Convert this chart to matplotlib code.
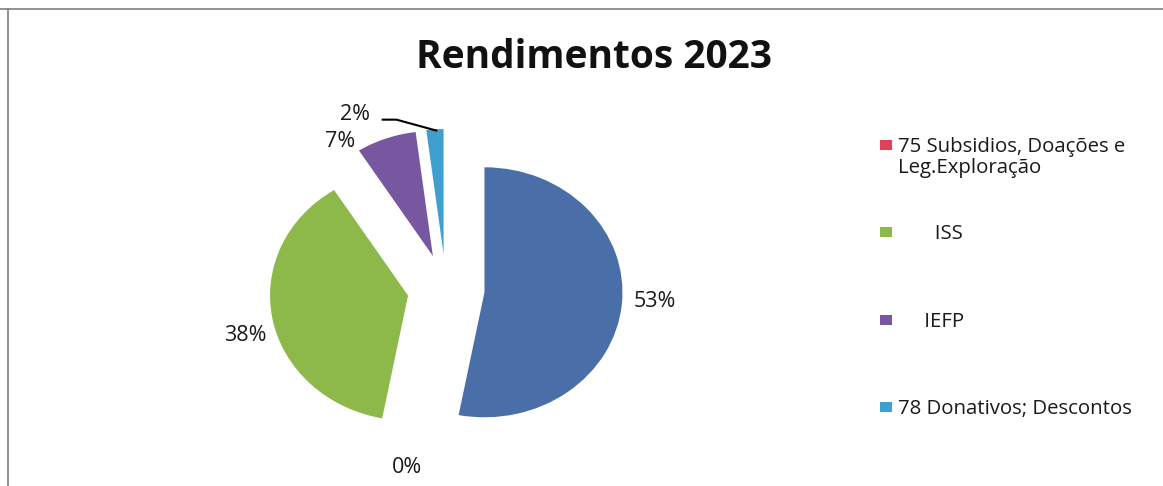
import matplotlib.pyplot as plt
import matplotlib.patches as mpatches
from matplotlib.lines import Line2D
import numpy as np

plt.rcParams['font.family'] = ['Open Sans', 'DejaVu Sans']

# Data
categories = ["72 Prestação de Serviços",
              "75 Subsidios, Doações e\nLeg.Exploração",
              "       ISS",
              "     IEFP",
              "78 Donativos; Descontos"]
values = [53, 0, 38, 7, 2]
colors = ["#4A6FA8", "#E0405A", "#8DB94A", "#7758A0", "#3FA0D0"]
legend_idx = [1, 2, 3, 4]  # first category has no legend entry in the original

# label placement: distance from pie centre and angle shift from wedge middle
label_dist = [1.518, 1.452, 1.503, 1.405, 1.547]
label_shift = [1.5, -0.4, 3.4, 13.3, 21.6]

W, H = 1163, 486
fig = plt.figure(figsize=(W / 100, H / 100), dpi=100)

# pie centre in px, radii in px
cx, cy, rx, ry = 446, 289, 138, 125
xl, yl = 2.2, 1.5
ax = fig.add_axes([(cx - xl * rx) / W, (H - cy - yl * ry) / H,
                   2 * xl * rx / W, 2 * yl * ry / H])

wedges, _ = ax.pie(values, colors=colors, startangle=90, counterclock=False,
                   explode=[0.28] * len(values), radius=1.0,
                   wedgeprops=dict(linewidth=0))
ax.set_aspect('auto')
ax.set_xlim(-xl, xl)
ax.set_ylim(-yl, yl)

total = sum(values)
for i, w in enumerate(wedges):
    mid = np.deg2rad((w.theta1 + w.theta2) / 2 + label_shift[i])
    lx = label_dist[i] * np.cos(mid)
    ly = label_dist[i] * np.sin(mid)
    pct = "%d%%" % round(100 * values[i] / total)
    ax.text(lx, ly, pct, ha='center', va='center', fontsize=15.5, color='#1a1a1a')

# leader line for the small 2% slice
w = wedges[4]
mid = np.deg2rad((w.theta1 + w.theta2) / 2)
ex = w.center[0] + w.r * np.cos(mid)
ey = w.center[1] + w.r * np.sin(mid)
mid_l = np.deg2rad((w.theta1 + w.theta2) / 2 + label_shift[4])
tx = label_dist[4] * np.cos(mid_l) + 0.2
ty = label_dist[4] * np.sin(mid_l) - 0.045
ax.plot([tx, tx + 0.1, ex + 0.01], [ty, ty, ey - 0.01], color='black', lw=1.5,
        clip_on=False)

fig.text(593.5 / W, 1 - 57 / H, "Rendimentos 2023", ha='center', va='center',
         fontsize=28, fontweight='bold', color='#111111')

# legend
leg_y = [145, 232, 320, 407]
for k, i in enumerate(legend_idx):
    y = leg_y[k]
    fig.patches.append(mpatches.Rectangle((880 / W, 1 - (y + 5) / H), 12 / W, 10 / H,
                                          transform=fig.transFigure,
                                          facecolor=colors[i], edgecolor='none'))
    fig.text(898 / W, 1 - (y - 8) / H, categories[i], ha='left', va='top',
             fontsize=14.7, color='#1a1a1a', linespacing=1.05)

# chart frame (top and left edges visible)
fig.add_artist(Line2D([0, 1], [1 - 9 / H, 1 - 9 / H], transform=fig.transFigure,
                      color='#808080', lw=1.2))
fig.add_artist(Line2D([8 / W, 8 / W], [0, 1 - 9 / H], transform=fig.transFigure,
                      color='#808080', lw=1.2))

fig.savefig("out.png", dpi=100, facecolor='white')
